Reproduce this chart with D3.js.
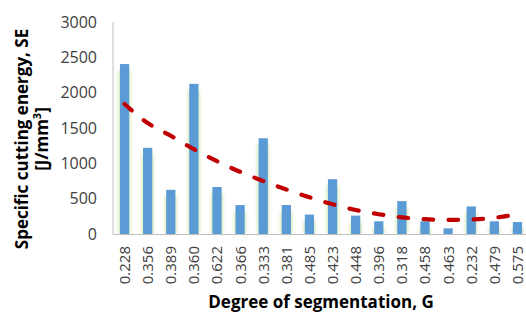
<!DOCTYPE html>
<html>
<head>
<meta charset="utf-8">
<script src="https://cdn.jsdelivr.net/npm/d3@7"></script>
<style>
  body { margin: 0; background: #fff; }
  svg { display: block; font-family: "Open Sans", sans-serif; }
</style>
</head>
<body>
<svg id="chart" width="526" height="313"></svg>
<script>
const categories = ['0.228', '0.356', '0.389', '0.360', '0.622', '0.366', '0.333', '0.381', '0.485',
                    '0.423', '0.448', '0.396', '0.318', '0.458', '0.463', '0.232', '0.479', '0.575'];
const energy = [2405, 1220, 625, 2125, 665, 410, 1355, 410, 275, 775, 260, 180, 465, 180, 80, 390, 180, 170];
const trend = [1840, 1570, 1390, 1200, 1030, 880, 750, 630, 520, 420, 340, 280, 235, 210, 200, 205, 230, 280];
const yTicks = [0, 500, 1000, 1500, 2000, 2500, 3000];

const svg = d3.select('#chart');
const plotLeft = 113, plotTop = 22, plotBottom = 234, plotRight = 529;

const x = d3.scaleBand().domain(categories).range([plotLeft, plotRight]).paddingInner(0.6).paddingOuter(0.3);
const y = d3.scaleLinear().domain([0, 3000]).range([plotBottom, plotTop]);

// soft green glow behind the bars
const defs = svg.append('defs');
defs.append('filter').attr('id', 'glow').attr('x', '-100%').attr('width', '300%')
    .append('feGaussianBlur').attr('stdDeviation', 1.6);

svg.append('g').selectAll('rect')
    .data(categories)
    .join('rect')
    .attr('x', (d) => x(d) - 1.5)
    .attr('y', (d, i) => y(energy[i]) + 6)
    .attr('width', x.bandwidth() + 3)
    .attr('height', (d, i) => plotBottom - y(energy[i]) - 6)
    .attr('fill', '#b9dc8c')
    .attr('opacity', 0.55)
    .attr('filter', 'url(#glow)');

svg.append('g').selectAll('rect')
    .data(categories)
    .join('rect')
    .attr('x', (d) => x(d))
    .attr('y', (d, i) => y(energy[i]))
    .attr('width', x.bandwidth())
    .attr('height', (d, i) => plotBottom - y(energy[i]))
    .attr('fill', '#5b9bd5');

// axes lines
svg.append('line').attr('x1', plotLeft).attr('x2', plotLeft).attr('y1', plotTop).attr('y2', plotBottom)
    .attr('stroke', '#bfbfbf').attr('stroke-width', 1);
svg.append('line').attr('x1', plotLeft).attr('x2', 526).attr('y1', plotBottom + 0.5).attr('y2', plotBottom + 0.5)
    .attr('stroke', '#bfbfbf').attr('stroke-width', 1);

// trend line
const line = d3.line()
    .x((d, i) => x(categories[i]) + x.bandwidth() / 2)
    .y((d) => y(d))
    .curve(d3.curveMonotoneX);

svg.append('path')
    .datum(trend)
    .attr('d', line)
    .attr('fill', 'none')
    .attr('stroke', '#c00000')
    .attr('stroke-width', 4.2)
    .attr('stroke-linecap', 'round')
    .attr('stroke-dasharray', '9.5 15.5');

// y tick labels
svg.append('g').selectAll('text')
    .data(yTicks)
    .join('text')
    .attr('x', 97)
    .attr('y', (d) => y(d))
    .attr('dy', '0.36em')
    .attr('text-anchor', 'end')
    .attr('font-size', 16)
    .attr('fill', '#404040')
    .text((d) => d);

// x tick labels
svg.append('g').selectAll('text')
    .data(categories)
    .join('text')
    .attr('transform', (d) => 'translate(' + (x(d) + x.bandwidth() / 2) + ',246) rotate(-90)')
    .attr('dy', '0.36em')
    .attr('text-anchor', 'end')
    .attr('font-size', 15)
    .attr('fill', '#404040')
    .text((d) => d);

// axis titles
svg.append('text')
    .attr('x', 321).attr('y', 308)
    .attr('text-anchor', 'middle')
    .attr('font-size', 17).attr('font-weight', 'bold')
    .attr('fill', '#000')
    .text('Degree of segmentation, G');

const yTitle = svg.append('text')
    .attr('transform', 'translate(28,139) rotate(-90)')
    .attr('text-anchor', 'middle')
    .attr('font-size', 17).attr('font-weight', 'bold')
    .attr('fill', '#000');
yTitle.append('tspan').attr('x', 0).attr('dy', 0).text('Specific cutting energy, SE');
yTitle.append('tspan').attr('x', 0).attr('dy', 20).text('[J/mm');
yTitle.append('tspan').attr('dy', -7).attr('font-size', 11).text('3');
yTitle.append('tspan').attr('dy', 7).text(']');
</script>
</body>
</html>
